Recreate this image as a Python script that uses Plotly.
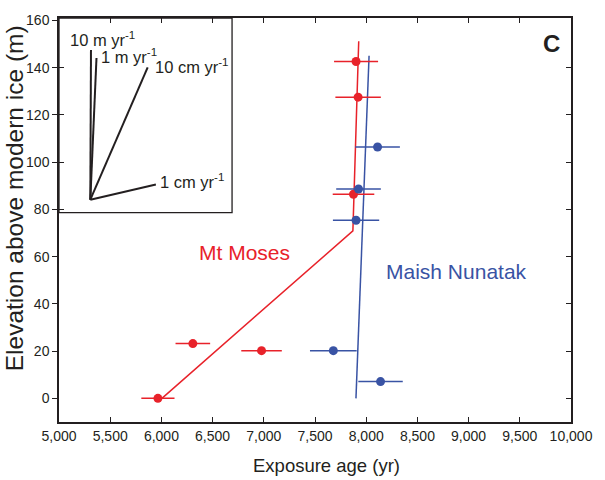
import plotly.graph_objects as go

# ---------------- data ----------------
# Mt Moses (red)
moses_age = [5966, 6307, 6978, 7901, 7921, 7876]
moses_err = [162, 169, 198, 215, 222, 203]
moses_elev = [0, 23.2, 20.2, 142.6, 127.5, 86.4]
moses_fit_age = [6005, 7870, 7927]
moses_fit_elev = [0, 70.9, 151.2]

# Maish Nunatak (blue)
maish_age = [7679, 8140, 8111, 7925, 7901]
maish_err = [228, 217, 218, 218, 226]
maish_elev = [20.2, 7.1, 106.4, 88.6, 75.4]
maish_fit_age = [7900, 8028]
maish_fit_elev = [0, 145]

# inset: thinning-rate reference lines (m/yr), rise drawn (m)
inset_labels = ["10 m yr<sup>-1</sup>", "1 m yr<sup>-1</sup>",
                "10 cm yr<sup>-1</sup>", "1 cm yr<sup>-1</sup>"]
inset_rates = [10, 1, 0.1, 0.01]
inset_rise = [63.4, 60, 56, 6.4]
inset_origin_age = 5306
inset_origin_elev = 84.1

x_ticks = list(range(5000, 10001, 500))
y_ticks = list(range(0, 161, 20))

RED = "#E8222A"
BLUE = "#3953A4"
INK = "#231F20"
FONT = "Arial, Liberation Sans, sans-serif"

fig = go.Figure()

# fit lines
fig.add_trace(go.Scatter(x=moses_fit_age, y=moses_fit_elev, mode="lines",
                         line=dict(color=RED, width=1.5), showlegend=False, hoverinfo="skip"))
fig.add_trace(go.Scatter(x=maish_fit_age, y=maish_fit_elev, mode="lines",
                         line=dict(color=BLUE, width=1.5), showlegend=False, hoverinfo="skip"))

# data points with error bars
fig.add_trace(go.Scatter(x=moses_age, y=moses_elev, mode="markers",
                         marker=dict(color=RED, size=9),
                         error_x=dict(type="data", array=moses_err, color=RED, thickness=1.5, width=0),
                         showlegend=False))
fig.add_trace(go.Scatter(x=maish_age, y=maish_elev, mode="markers",
                         marker=dict(color=BLUE, size=9),
                         error_x=dict(type="data", array=maish_err, color=BLUE, thickness=1.5, width=0),
                         showlegend=False))

# inset rate lines
for lab, rate, rise in zip(inset_labels, inset_rates, inset_rise):
    x_end = inset_origin_age + rise / rate
    y_end = inset_origin_elev + rise
    fig.add_trace(go.Scatter(x=[inset_origin_age, x_end], y=[inset_origin_elev, y_end],
                             mode="lines", line=dict(color=INK, width=2),
                             showlegend=False, hoverinfo="skip"))

# invisible traces so the extra tick axes are drawn
fig.add_trace(go.Scatter(x=[None], y=[None], yaxis="y2", showlegend=False, hoverinfo="skip"))
fig.add_trace(go.Scatter(x=[None], y=[None], yaxis="y3", showlegend=False, hoverinfo="skip"))

yr = [-10, 161]

fig.update_layout(
    width=605, height=480,
    margin=dict(l=59, r=28, t=13, b=58),
    paper_bgcolor="white", plot_bgcolor="white",
    font=dict(family=FONT, color=INK, size=14),
    xaxis=dict(range=[5000, 10000], tickvals=x_ticks, tickformat=",",
               ticks="inside", ticklen=5, tickwidth=1.2, tickcolor=INK,
               showline=True, linecolor=INK, linewidth=1.5, mirror="ticks",
               showgrid=False, zeroline=False, tickfont=dict(size=14, color=INK)),
    yaxis=dict(range=yr, tickvals=y_ticks,
               ticks="outside", ticklen=5, tickwidth=1.2, tickcolor=INK,
               showline=True, linecolor=INK, linewidth=1.5, mirror=True,
               showgrid=False, zeroline=False, tickfont=dict(size=14, color=INK)),
    yaxis2=dict(range=yr, tickvals=y_ticks[:-1], overlaying="y", side="right",
                ticks="inside", ticklen=5, tickwidth=1.2, tickcolor=INK,
                showticklabels=False, showline=False, showgrid=False, zeroline=False),
    yaxis3=dict(range=yr, tickvals=[80, 100, 120, 140], overlaying="y", side="left",
                ticks="inside", ticklen=5, tickwidth=1.2, tickcolor=INK,
                showticklabels=False, showline=False, showgrid=False, zeroline=False),
    showlegend=False,
)

# inset frame
fig.add_shape(type="rect", xref="x", yref="y", x0=5000, x1=6690, y0=78.6, y1=161,
              line=dict(color=INK, width=1.3), fillcolor="rgba(0,0,0,0)", layer="above")

# inset labels
inset_label_pos = [(5084, 152.0), (5389, 145.1), (5918, 140.5), (5966, 91.8)]
for lab, (lx, ly) in zip(inset_labels, inset_label_pos):
    fig.add_annotation(x=lx, y=ly, xref="x", yref="y", text=lab, showarrow=False,
                       xanchor="left", yanchor="middle", font=dict(size=16.5, color=INK, family=FONT))

# series labels
fig.add_annotation(x=6807, y=61.6, xref="x", yref="y", text="Mt Moses", showarrow=False,
                   xanchor="center", yanchor="middle", font=dict(size=21, color=RED, family=FONT))
fig.add_annotation(x=8884, y=53.5, xref="x", yref="y", text="Maish Nunatak", showarrow=False,
                   xanchor="center", yanchor="middle", font=dict(size=21, color=BLUE, family=FONT))

# panel letter
fig.add_annotation(x=0.961, y=0.936, xref="paper", yref="paper", text="<b>C</b>", showarrow=False,
                   xanchor="center", yanchor="middle", font=dict(size=24, color=INK, family=FONT))

# axis titles
fig.add_annotation(x=0.5225, y=-0.1066, xref="paper", yref="paper", text="Exposure age (yr)",
                   showarrow=False, xanchor="center", yanchor="middle",
                   font=dict(size=18.5, color=INK, family=FONT))
fig.add_annotation(x=-0.087, y=0.555, xref="paper", yref="paper",
                   text="Elevation above modern ice (m)", textangle=-90,
                   showarrow=False, xanchor="center", yanchor="middle",
                   font=dict(size=24.5, color=INK, family=FONT))

fig.write_html("out.html", config={"displayModeBar": False},
               post_script="document.body.style.margin='0';document.body.style.overflow='hidden';")
